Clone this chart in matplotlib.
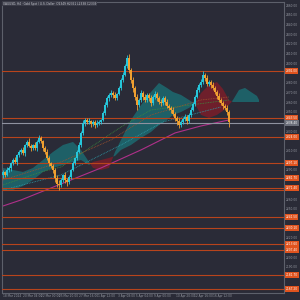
import matplotlib
matplotlib.use("Agg")
import matplotlib.pyplot as plt
import numpy as np

# ---------------- data ----------------
first_open = 2285.0
closes = [2287.9, 2284.8, 2289.9, 2292.0, 2297.1, 2300.2, 2298.2, 2305.4, 2308.5, 2310.6,
          2307.5, 2315.7, 2318.8, 2314.7, 2312.6, 2315.7, 2312.6, 2318.8, 2322.9, 2319.8,
          2312.6, 2308.5, 2302.3, 2297.1, 2294.0, 2289.9, 2281.7, 2275.5, 2274.5, 2279.6,
          2284.8, 2279.6, 2277.6, 2282.7, 2289.9, 2297.1, 2302.3, 2308.5, 2315.7, 2328.1,
          2338.4, 2341.5, 2339.4, 2340.4, 2337.4, 2339.4, 2336.3, 2338.4, 2339.4, 2341.5,
          2348.7, 2357.0, 2364.2, 2367.3, 2369.3, 2367.3, 2364.2, 2368.3, 2374.5, 2382.7,
          2387.9, 2397.2, 2405.4, 2393.0, 2382.7, 2374.5, 2365.2, 2357.0, 2362.1, 2369.3,
          2365.2, 2362.1, 2367.3, 2364.2, 2359.0, 2365.2, 2368.3, 2364.2, 2360.0, 2359.0,
          2364.2, 2360.0, 2355.9, 2353.9, 2351.8, 2347.7, 2343.5, 2340.4, 2336.3, 2339.4,
          2342.5, 2344.6, 2340.4, 2346.6, 2351.8, 2358.0, 2365.2, 2372.4, 2377.6, 2380.7,
          2387.9, 2384.8, 2378.6, 2380.7, 2377.6, 2374.5, 2370.3, 2366.2, 2362.1, 2359.0,
          2355.9, 2353.9, 2349.7, 2339.4]
upper_wicks = [2, 1, 3, 2, 1, 2, 3, 1, 2, 2, 3, 1, 2, 4, 2, 1, 3, 2, 3, 2,
               1, 2, 3, 2, 1, 2, 2, 3, 4, 2, 1, 3, 2, 2, 1, 2, 1, 2, 3, 2,
               3, 2, 2, 3, 1, 2, 2, 3, 2, 1, 2, 3, 2, 2, 3, 2, 3, 1, 2, 2,
               3, 2, 3, 4, 2, 3, 2, 3, 2, 3, 2, 3, 2, 2, 3, 2, 3, 2, 2, 3,
               2, 2, 3, 2, 2, 3, 2, 2, 3, 2, 2, 3, 2, 2, 3, 2, 2, 3, 2, 3,
               4, 2, 3, 2, 2, 3, 2, 2, 3, 2, 2, 2, 3, 2]
lower_wicks = [3, 2, 1, 2, 3, 2, 1, 3, 2, 2, 2, 3, 2, 1, 3, 2, 2, 3, 1, 2,
               3, 2, 2, 3, 2, 3, 4, 3, 5, 2, 2, 3, 4, 2, 2, 1, 2, 2, 1, 2,
               2, 3, 2, 2, 3, 2, 3, 2, 2, 2, 1, 2, 2, 3, 2, 3, 2, 2, 1, 2,
               2, 1, 2, 3, 3, 4, 3, 5, 2, 2, 3, 2, 2, 3, 3, 2, 2, 3, 2, 3,
               2, 3, 2, 2, 3, 2, 3, 4, 3, 2, 2, 2, 3, 2, 2, 1, 2, 1, 2, 2,
               2, 3, 2, 2, 3, 2, 2, 3, 2, 2, 3, 2, 3, 5]

cloud_idx = [0, 5, 10, 15, 20, 25, 30, 35, 39, 43, 45, 49, 53, 56, 59, 64, 69, 74, 78, 82,
             85, 89, 93, 96, 99, 103, 107, 110, 113, 115, 118, 121, 124, 127, 128]
span_a = [2292.0, 2289.9, 2287.9, 2292.0, 2300.2, 2308.5, 2315.7, 2318.8, 2310.6, 2298.2,
          2292.0, 2289.9, 2292.0, 2308.5, 2320.9, 2341.5, 2356.9, 2370.3, 2379.6, 2374.5,
          2370.3, 2367.3, 2362.1, 2358.0, 2346.7, 2343.6, 2346.7, 2350.9, 2357.0, 2362.1,
          2372.4, 2374.5, 2370.3, 2366.2, 2362.1]
span_b = [2269.3, 2269.3, 2273.4, 2279.6, 2287.9, 2292.0, 2295.1, 2298.2, 2300.2, 2295.1,
          2298.2, 2300.2, 2302.3, 2304.4, 2310.6, 2315.7, 2322.9, 2329.1, 2336.3, 2341.5,
          2346.6, 2349.7, 2353.9, 2358.0, 2369.3, 2377.5, 2380.6, 2373.3, 2362.1, 2360.0,
          2360.0, 2360.0, 2360.0, 2360.0, 2360.0]

ma_magenta_idx = [0, 9, 29, 49, 69, 86, 99, 113]
ma_magenta = [2252.8, 2259.0, 2275.5, 2292.0, 2310.6, 2328.1, 2335.3, 2341.5]
ma_green_idx = [0, 19, 29, 44, 59, 74, 94, 113]
ma_green = [2274.5, 2287.9, 2293.0, 2313.6, 2334.3, 2351.8, 2357.0, 2362.1]
ma_orange_idx = [0, 29, 54, 74, 99, 113]
ma_orange = [2279.6, 2298.2, 2320.9, 2346.6, 2362.1, 2365.2]
ma_teal_idx = [0, 29, 59, 80, 109]
ma_teal = [2269.3, 2284.8, 2315.7, 2339.4, 2354.9]

level_lines = [2392.0, 2343.5, 2324.0, 2297.1, 2281.7, 2271.4, 2269.3,
               2241.5, 2230.1, 2213.6, 2207.4, 2181.7, 2167.2]
gray_level = 2338.4

price_ticks = list(range(2460, 2160, -10))
date_tick_idx = [0, 10, 19, 28, 38, 47.5, 57.5, 66.5, 75.5, 86.5, 95.5, 105]
date_labels = ["18 Mar 2024", "20 Mar 04:00", "22 Mar 00:00", "25 Mar 20:00",
               "27 Mar 16:00", "1 Apr 12:00", "3 Apr 08:00", "5 Apr 04:00",
               "9 Apr 00:00", "10 Apr 20:00", "12 Apr 16:00", "16 Apr 12:00"]
title = "XAUUSD, H4 \u00b7 Gold Spot / U.S. Dollar  O2349 H2351 L2338 C2339"

# ---------------- style ----------------
BG = "#2a2b37"
UP = "#26c6da"
DN = "#f0a030"
LINE = "#b8441c"
LABEL = "#e0531e"
TXT = "#9598a1"
FS = 2.1

fig = plt.figure(figsize=(3, 3), dpi=100, facecolor=BG)
ax = fig.add_axes([2 / 300, 7 / 300, 282 / 300, 291 / 300], facecolor=BG)

ax.set_xlim(-0.5, 140.5)
ax.set_ylim(2163.1, 2463.1)

# cloud
ca = np.array(span_a)
cb = np.array(span_b)
ax.fill_between(cloud_idx, ca, cb, where=ca >= cb, interpolate=True,
                color="#1d6a70", alpha=0.85, lw=0, zorder=1)
ax.fill_between(cloud_idx, ca, cb, where=ca < cb, interpolate=True,
                color="#6e1f2b", alpha=1.0, lw=0, zorder=1)

# moving averages
ax.plot(ma_magenta_idx, ma_magenta, color="#b0308a", lw=0.8, zorder=2)
ax.plot(ma_green_idx, ma_green, color="#3d8a3d", lw=0.6, ls=(0, (1, 1)), zorder=2)
ax.plot(ma_orange_idx, ma_orange, color="#a0522d", lw=0.6, ls=(0, (1, 1)), zorder=2)
ax.plot(ma_teal_idx, ma_teal, color="#2e9aa8", lw=0.6, ls=(0, (1, 1)), zorder=2)

# level lines
for p in level_lines:
    ax.axhline(p, color=LINE, lw=0.8, zorder=3)
ax.axhline(gray_level, color="#8f92a0", lw=0.8, zorder=3)

# candles
opens = [first_open] + closes[:-1]
for i, (o, c) in enumerate(zip(opens, closes)):
    col = UP if c >= o else DN
    hi = max(o, c) + upper_wicks[i]
    lo = min(o, c) - lower_wicks[i]
    ax.vlines(i, lo, hi, color=col, lw=0.6, zorder=4)
    ax.bar(i, max(abs(c - o), 0.8), bottom=min(o, c), width=0.85,
           color=col, lw=0, zorder=5)

# axes styling
for s in ax.spines.values():
    s.set_color("#5d606b")
    s.set_linewidth(0.8)
ax.yaxis.tick_right()
all_levels = level_lines + [gray_level]
shown_ticks = [t for t in price_ticks if min(abs(t - l) for l in all_levels) > 4.5]
ax.set_yticks(shown_ticks)
ax.set_yticklabels([f"{p:.2f}" for p in shown_ticks])
ax.tick_params(axis="y", length=0, labelsize=FS, labelcolor=TXT, pad=1.5)
ax.set_xticks(date_tick_idx)
ax.set_xticklabels(date_labels, ha="left")
ax.tick_params(axis="x", length=0, labelsize=FS, labelcolor=TXT, pad=1)

# right-side price label boxes
trans = ax.get_yaxis_transform()
merged = []
for p in sorted(all_levels, reverse=True):
    if merged and abs(merged[-1] - p) < 3:
        continue
    merged.append(p)
for p in merged:
    fc = "#6b6e7a" if p == gray_level else LABEL
    ax.text(1.006, p, f"{p:.2f}", transform=trans, fontsize=FS, color="white",
            va="center", ha="left", clip_on=False, zorder=10,
            bbox=dict(boxstyle="square,pad=0.25", fc=fc, ec="none"))

# title strip
fig.text(3 / 300, 1 - 3.5 / 300, title, fontsize=FS, color="#c8cad2",
         va="center", ha="left",
         bbox=dict(boxstyle="square,pad=0.3", fc="#3a3b47", ec="none"))

fig.savefig("out.png", dpi=100, facecolor=BG)
